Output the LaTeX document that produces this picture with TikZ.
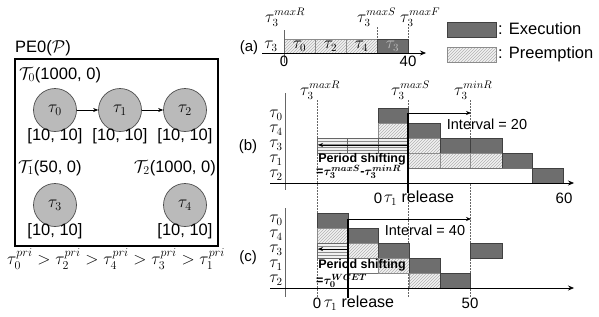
\documentclass[tikz,border=0pt]{standalone}
\usepackage{fontspec}
\setmainfont{Liberation Sans}
\usepackage{amsmath,bm}
\usetikzlibrary{arrows.meta,patterns}
\begin{document}
\begin{tikzpicture}[x=1pt,y=-1pt,
  txt/.style={inner sep=0pt,font=\fontsize{15}{17}\selectfont},
  ltxt/.style={inner sep=0pt,font=\fontsize{16.5}{19}\selectfont},
  tau/.style={inner sep=0pt,font=\fontsize{16}{18}\selectfont},
  task/.style={circle,minimum size=43pt,inner sep=0pt,fill=black!27,draw=black!70,line width=0.7pt,font=\fontsize{17}{19}\selectfont},
  dep/.style={-{Stealth[length=5pt,width=4pt]},line width=0.6pt},
  exec/.style={draw=black!75,fill=black!57,line width=0.6pt},
  pre/.style={draw=black!45,line width=0.5pt,pattern=north east lines,pattern color=black!30,preaction={fill=black!5}},
  wait/.style={draw=black!55,line width=0.5pt,fill=white},
  shiftbox/.style={draw=black!60,line width=0.5pt,pattern=horizontal lines,pattern color=black!45,preaction={fill=black!6}},
  guide/.style={black!60,line width=0.5pt,dash pattern=on 1.5pt off 1.5pt},
  axis/.style={line width=0.7pt,-{Stealth[length=6pt,width=5pt]}},
  yax/.style={black!60,line width=0.6pt},
  release/.style={line width=1.5pt},
  interval/.style={line width=0.8pt,-{Stealth[length=5pt,width=4pt]}},
  bold/.style={inner sep=0pt,font=\bfseries\fontsize{12.5}{14}\selectfont}
]
\useasboundingbox (0,0) rectangle (599,316);

% ---------------- left panel ----------------
\node[ltxt] (pe) at (43,48) {PE0($\mathcal{P}$)};
\draw[line width=2pt] (15,59) rectangle (218,246);
\node[ltxt,anchor=west] (g0) at (19,75) {$\mathcal{T}_0$(1000, 0)};
\node[task] (t0) at (55,110) {$\tau_0$};
\node[task] (t1) at (120,110) {$\tau_1$};
\node[task] (t2) at (185,110) {$\tau_2$};
\draw[dep] (t0) -- (t1);
\draw[dep] (t1) -- (t2);
\node[ltxt] (w0) at (55,136) {[10, 10]};
\node[ltxt] (w1) at (120,136) {[10, 10]};
\node[ltxt] (w2) at (185,136) {[10, 10]};
\node[ltxt,anchor=west] (g1) at (18,168) {$\mathcal{T}_1$(50, 0)};
\node[ltxt,anchor=east] (g2) at (216,168) {$\mathcal{T}_2$(1000, 0)};
\node[task] (t3) at (55,205) {$\tau_3$};
\node[task] (t4) at (185,205) {$\tau_4$};
\node[ltxt] (w3) at (55,231) {[10, 10]};
\node[ltxt] (w4) at (185,231) {[10, 10]};
\node[inner sep=0pt,font=\fontsize{17.5}{19}\selectfont] (prio) at (116,259) {$\tau_0^{pri}>\tau_2^{pri}>\tau_4^{pri}>\tau_3^{pri}>\tau_1^{pri}$};

% ---------------- (a) ----------------
\node[txt] (la) at (249,48) {(a)};
\node[tau] (ra) at (271,46) {$\tau_3$};
\draw[guide] (377,27) -- (377,39);
\draw[guide] (408,27) -- (408,39);
\draw[pre] (284,39) rectangle (315,53);
\draw[pre] (315,39) rectangle (346,53);
\draw[pre] (346,39) rectangle (377,53);
\draw[exec] (377,39) rectangle (408,53);
\node[tau] (a0) at (299.5,46) {$\tau_0$};
\node[tau] (a2) at (330.5,46) {$\tau_2$};
\node[tau] (a4) at (361.5,46) {$\tau_4$};
\node[tau,text=black!25] (a3) at (392.5,46) {$\tau_3$};
\draw[yax] (284,30) -- (284,63);
\coordinate (axa0) at (262,53);
\coordinate (axa1) at (426,53);
\draw[axis] (axa0) -- (axa1);
\node[txt] (a0l) at (284,61) {0};
\node[txt] (a40) at (408,61) {40};
\node[tau,anchor=base west] (amr) at (265,22) {$\tau_3^{maxR}$};
\node[tau,anchor=base west] (ams) at (357,22) {$\tau_3^{maxS}$};
\node[tau,anchor=base west] (amf) at (400,22) {$\tau_3^{maxF}$};

% legend
\draw[exec] (447,22) rectangle (496,37);
\node[anchor=west,inner sep=0pt,font=\fontsize{16.5}{18}\selectfont] (le) at (498,29) {: Execution};
\draw[pre] (447,47) rectangle (496,62);
\node[anchor=west,inner sep=0pt,font=\fontsize{16.5}{18}\selectfont] (lp) at (498,54) {: Preemption};

% ---------------- guides shared by (b) and (c) ----------------
\draw[guide] (317,100) -- (317,297);
\draw[guide] (408,100) -- (408,297);
\draw[guide] (470,100) -- (470,297);
\node[tau,anchor=base west] (bmr) at (300,95) {$\tau_3^{maxR}$};
\node[tau,anchor=base west] (bms) at (391,95) {$\tau_3^{maxS}$};
\node[tau,anchor=base west] (bmn) at (454,95) {$\tau_3^{minR}$};

% ---------------- (b) ----------------
\node[txt] (lb) at (248,147) {(b)};
\node[tau] (b0) at (276,115) {$\tau_0$};
\node[tau] (b4) at (276,130) {$\tau_4$};
\node[tau] (b3) at (276,145) {$\tau_3$};
\node[tau] (b1) at (276,160) {$\tau_1$};
\node[tau] (b2) at (276,175) {$\tau_2$};
% tau0
\draw[exec] (378,108) rectangle (408,123);
% tau4
\draw[pre] (378,123) rectangle (408,138);
\draw[exec] (408,123) rectangle (440,138);
% tau3
\draw[shiftbox] (317,138) rectangle (408,153);
\draw[black!60,line width=0.5pt] (347,138) -- (347,153) (378,138) -- (378,153);
\coordinate (bs0) at (408,145);
\coordinate (bs1) at (318,145);
\draw[line width=0.7pt,-{Stealth[length=5pt,width=4pt]}] (bs0) -- (bs1);
\draw[pre] (408,138) rectangle (440,153);
\draw[exec] (440,138) rectangle (470,153);
\draw[exec] (470,138) rectangle (502,153);
% tau1
\draw[pre] (408,153) rectangle (440,168);
\draw[pre] (440,153) rectangle (470,168);
\draw[pre] (470,153) rectangle (502,168);
\draw[exec] (502,153) rectangle (532,168);
% tau2
\draw[wait] (408,168) rectangle (532,183);
\draw[exec] (532,168) rectangle (563,183);
% axes
\draw[yax] (285,93) -- (285,190);
\coordinate (axb0) at (270,183);
\coordinate (axb1) at (574,183);
\draw[axis] (axb0) -- (axb1);
\coordinate (rb0) at (408,113);
\coordinate (rb1) at (408,193);
\draw[release] (rb0) -- (rb1);
\coordinate (ib1) at (471,113);
\draw[interval] (rb0) -- (ib1);
\node[inner sep=0pt,font=\fontsize{14.5}{16}\selectfont] (ivb) at (487,124) {Interval = 20};
\node[bold] (psb) at (362,159) {Period shifting};
\node[bold,anchor=west] (pfb) at (316,172) {=$\bm{\tau_3^{maxS}}$-$\bm{\tau_3^{minR}}$};
\node[txt] (b0l) at (378,198) {0};
\node[tau] (brl) at (419,198) {$\tau_1$ release};
\node[txt] (b60) at (564,198) {60};

% ---------------- (c) ----------------
\node[txt] (lc) at (248,258) {(c)};
\node[tau] (c0) at (276,220) {$\tau_0$};
\node[tau] (c4) at (276,235) {$\tau_4$};
\node[tau] (c3) at (276,250) {$\tau_3$};
\node[tau] (c1) at (276,265) {$\tau_1$};
\node[tau] (c2) at (276,280) {$\tau_2$};
% tau0
\draw[exec] (317,213) rectangle (348,228);
% tau4
\draw[pre] (317,228) rectangle (348,243);
\draw[exec] (348,228) rectangle (378,243);
% tau3
\draw[shiftbox] (317,243) rectangle (348,258);
\coordinate (cs0) at (348,249);
\coordinate (cs1) at (318,249);
\draw[line width=0.7pt,-{Stealth[length=5pt,width=4pt]}] (cs0) -- (cs1);
\draw[pre] (348,243) rectangle (378,258);
\draw[exec] (378,243) rectangle (409,258);
\draw[exec] (470,243) rectangle (502,258);
% tau1
\draw[wait] (348,258) rectangle (378,273);
\draw[pre] (378,258) rectangle (409,273);
\draw[exec] (409,258) rectangle (440,273);
% tau2
\draw[pre] (409,273) rectangle (440,288);
\draw[exec] (440,273) rectangle (470,288);
% axes
\draw[yax] (285,208) -- (285,297);
\coordinate (axc0) at (270,288);
\coordinate (axc1) at (574,288);
\draw[axis] (axc0) -- (axc1);
\coordinate (rc0) at (348,219);
\coordinate (rc1) at (348,298);
\draw[release] (rc0) -- (rc1);
\coordinate (ic1) at (471,219);
\draw[interval] (rc0) -- (ic1);
\node[inner sep=0pt,font=\fontsize{14.5}{16}\selectfont] (ivc) at (425,230) {Interval = 40};
\node[bold] (psc) at (362,265) {Period shifting};
\node[bold,anchor=west] (pfc) at (316,281) {=$\bm{\tau_0^{WCET}}$};
\node[txt] (c0l) at (317,303) {0};
\node[tau] (crl) at (359,303) {$\tau_1$ release};
\node[txt] (c50) at (470,303) {50};
\end{tikzpicture}
\end{document}
